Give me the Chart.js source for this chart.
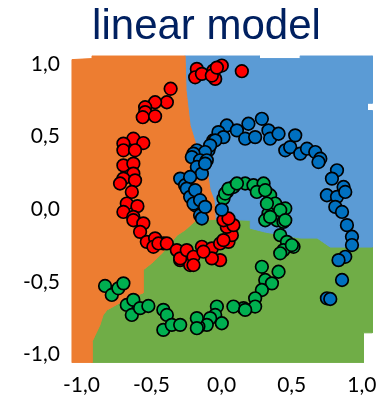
<!DOCTYPE html>
<html><head><meta charset="utf-8">
<script src="https://cdn.jsdelivr.net/npm/chart.js@4/dist/chart.umd.min.js"></script>
<style>html,body{margin:0;padding:0;background:#fff}#wrap{width:378px;height:397px}</style>
</head><body><div id="wrap"><canvas id="c"></canvas></div>
<script>
const chartTitle = 'linear model';
const tickValues = [-1, -0.5, 0, 0.5, 1];
const tickLabels = ['-1,0', '-0,5', '0,0', '0,5', '1,0'];

// scatter points: red class
const redX = [-0.364,-0.391,-0.475,-0.546,-0.546,-0.563,-0.475,-0.630,-0.701,-0.559,-0.701,-0.618,-0.701,-0.630,-0.630,-0.701,-0.725,-0.618,-0.641,-0.677,-0.601,-0.701,-0.630,-0.630,-0.559,-0.582,-0.534,-0.475,-0.487,-0.416,-0.451,-0.391,-0.320,-0.296,-0.237,-0.225,-0.296,-0.249,-0.201,-0.201,-0.141,-0.070,-0.011,-0.070,-0.130,-0.011,0.049,0.073,0.037,0.084,0.013,0.049,0.013,-0.177,-0.189,-0.141,-0.059,0.001,-0.046,-0.070,0.144,-0.034];
const redY = [0.830,0.737,0.737,0.703,0.669,0.634,0.641,0.486,0.452,0.456,0.406,0.406,0.302,0.314,0.245,0.211,0.177,0.199,0.119,0.039,0.021,-0.019,-0.053,-0.076,-0.098,-0.156,-0.225,-0.201,-0.259,-0.236,-0.236,-0.236,-0.282,-0.351,-0.328,-0.385,-0.339,-0.282,-0.328,-0.385,-0.259,-0.270,-0.351,-0.339,-0.293,-0.236,-0.225,-0.179,-0.122,-0.110,-0.076,-0.064,-0.213,0.967,0.909,0.933,0.955,0.990,0.898,0.921,0.951,0.976];

// blue class
const blueX = [-0.177,-0.094,-0.059,-0.034,0.037,0.109,0.168,0.191,0.239,0.287,0.334,0.346,0.406,0.454,0.489,0.525,0.561,0.609,0.668,0.704,0.691,0.823,0.787,0.870,0.751,0.823,0.882,0.811,0.859,0.894,0.930,0.930,0.882,0.834,0.859,0.751,0.775,0.001,-0.023,0.013,-0.046,-0.082,-0.118,-0.201,-0.213,-0.154,-0.106,-0.177,-0.141,-0.237,-0.296,-0.261,-0.225,-0.249,-0.225,-0.189,-0.154,-0.141,-0.118,-0.189,-0.201,-0.154,-0.118];
const blueY = [0.406,0.406,0.474,0.486,0.577,0.543,0.486,0.589,0.497,0.623,0.543,0.486,0.520,0.406,0.428,0.509,0.383,0.417,0.394,0.348,0.325,0.268,0.211,0.153,0.096,0.085,0.119,0.016,-0.019,-0.110,-0.190,-0.247,-0.328,-0.351,-0.488,-0.614,-0.619,-0.003,0.531,0.497,0.474,0.440,0.394,0.383,0.359,0.337,0.337,0.291,0.245,0.211,0.211,0.165,0.222,0.142,0.085,0.027,-0.041,-0.064,0.314,0.131,0.039,0.062,0.016];

// green class
const greenX = [0.084,0.037,0.013,0.168,0.227,0.299,0.251,0.346,0.382,0.454,0.334,0.025,0.049,0.109,0.311,0.323,0.311,0.394,0.441,0.418,0.466,0.513,0.441,0.418,0.287,0.406,0.311,0.359,0.287,0.239,0.239,0.156,0.084,0.168,-0.034,-0.046,0.001,-0.082,-0.106,-0.166,-0.177,-0.832,-0.784,-0.737,-0.701,-0.677,-0.630,-0.641,-0.582,-0.523,-0.416,-0.391,-0.416,-0.356,-0.296,-0.177,0.418,0.454,0.346,0.501];
const greenY = [0.153,0.119,0.074,0.177,0.165,0.177,0.119,0.096,0.039,0.005,-0.030,0.108,0.142,0.177,0.131,0.039,-0.076,-0.076,-0.087,-0.179,-0.225,-0.259,-0.282,-0.304,-0.397,-0.431,-0.488,-0.511,-0.557,-0.614,-0.671,-0.682,-0.671,-0.694,-0.671,-0.729,-0.786,-0.751,-0.797,-0.809,-0.751,-0.529,-0.591,-0.545,-0.511,-0.660,-0.625,-0.729,-0.682,-0.667,-0.694,-0.729,-0.832,-0.797,-0.797,-0.820,-0.007,-0.076,-0.053,-0.247];

// decision-region outlines (data coordinates)
const orangeX = [-1.068,-0.925,-0.925,-0.261,-0.254,-0.225,-0.182,-0.154,-0.104,-0.082,-0.054,-0.046,-0.189,-0.261,-0.318,-0.418,-0.489,-0.561,-0.561,-0.689,-0.818,-0.846,-0.868,-0.925,-0.925,-1.068];
const orangeY = [1.031,1.038,1.058,1.058,0.818,0.577,0.440,0.337,0.268,0.131,0.062,-0.069,-0.082,-0.144,-0.179,-0.296,-0.364,-0.419,-0.577,-0.625,-0.694,-0.729,-0.797,-0.914,-1.058,-1.058];
const blueRegX = [-0.261,0.27,0.27,0.56,0.56,1.075,1.075,1.04,1.04,1.075,1.075,0.775,0.682,0.561,0.311,0.204,0.204,-0.046,-0.054,-0.082,-0.104,-0.154,-0.182,-0.225,-0.254];
const blueRegY = [1.058,1.058,1.038,1.038,1.058,1.058,0.73,0.73,0.68,0.68,-0.261,-0.261,-0.199,-0.199,-0.158,-0.131,-0.076,-0.069,0.062,0.131,0.268,0.337,0.440,0.577,0.818];
const greenRegX = [-0.046,0.204,0.204,0.311,0.561,0.682,0.775,1.075,1.075,1.011,1.011,-0.925,-0.925,-0.868,-0.846,-0.818,-0.689,-0.561,-0.561,-0.489,-0.418,-0.318,-0.261,-0.189];
const greenRegY = [-0.069,-0.076,-0.131,-0.158,-0.199,-0.199,-0.261,-0.261,-0.852,-0.852,-1.058,-1.058,-0.914,-0.797,-0.729,-0.694,-0.625,-0.577,-0.419,-0.364,-0.296,-0.179,-0.144,-0.082];

const pts = (xs, ys) => xs.map((x, i) => ({x, y: ys[i]}));
const closed = (xs, ys) => { const p = pts(xs, ys); p.push({x: xs[0], y: ys[0]}); return p; };

function region(label, xs, ys, color) {
  return {type: 'line', label, data: closed(xs, ys), showLine: true, fill: 'shape',
    backgroundColor: color, borderColor: color, borderWidth: 1, pointRadius: 0,
    tension: 0, order: 10};
}
function cls(label, xs, ys, color, order) {
  return {type: 'scatter', label, data: pts(xs, ys), backgroundColor: color,
    borderColor: '#000', borderWidth: 1.7, pointRadius: 6.3, order};
}

// shift the title block horizontally (title sits a bit right of canvas centre)
const titleShift = {id: 'titleShift', afterLayout(chart) {
  const t = chart.titleBlock; if (t) { t.left = 40; t.right = 373; }
}};

new Chart(document.getElementById('c'), {
  type: 'scatter',
  plugins: [titleShift],
  data: {datasets: [
    region('orange', orangeX, orangeY, '#ED7D31'),
    region('blue', blueRegX, blueRegY, '#5B9BD5'),
    region('green', greenRegX, greenRegY, '#70AD47'),
    cls('class 2', greenX, greenY, '#00B050', 3),
    cls('class 0', redX, redY, '#FF0000', 2),
    cls('class 1', blueX, blueY, '#0070C0', 1)
  ]},
  options: {
    responsive: true, maintainAspectRatio: false, animation: false,
    layout: {autoPadding: false, padding: {left: 0, right: 5, top: 0, bottom: 0}},
    plugins: {
      legend: {display: false}, tooltip: {enabled: false},
      title: {display: true, text: chartTitle, color: '#002060',
        font: {family: 'Liberation Sans, Arial, sans-serif', size: 42, weight: 'normal', lineHeight: 1.2},
        padding: {top: 2, bottom: 3}}
    },
    scales: {
      x: {type: 'linear', min: -1.075, max: 1.08,
        grid: {display: false, drawTicks: false}, border: {display: false},
        afterBuildTicks: s => { s.ticks = tickValues.map(v => ({value: v})); },
        afterFit: s => { s.height = 34; s.paddingLeft = 0; s.paddingRight = 0; },
        ticks: {padding: 10, color: '#000', font: {family: 'Lato, sans-serif', size: 21},
          callback: (v, i) => tickLabels[i], maxRotation: 0, autoSkip: false}},
      y: {type: 'linear', min: -1.06, max: 1.06,
        grid: {display: false, drawTicks: false}, border: {display: false},
        afterBuildTicks: s => { s.ticks = tickValues.map(v => ({value: v})); },
        afterFit: s => { s.width = 71; s.paddingTop = 0; s.paddingBottom = 0; },
        ticks: {padding: 11, color: '#000', font: {family: 'Lato, sans-serif', size: 21},
          callback: (v, i) => tickLabels[i], autoSkip: false}}
    }
  }
});
</script></body></html>
